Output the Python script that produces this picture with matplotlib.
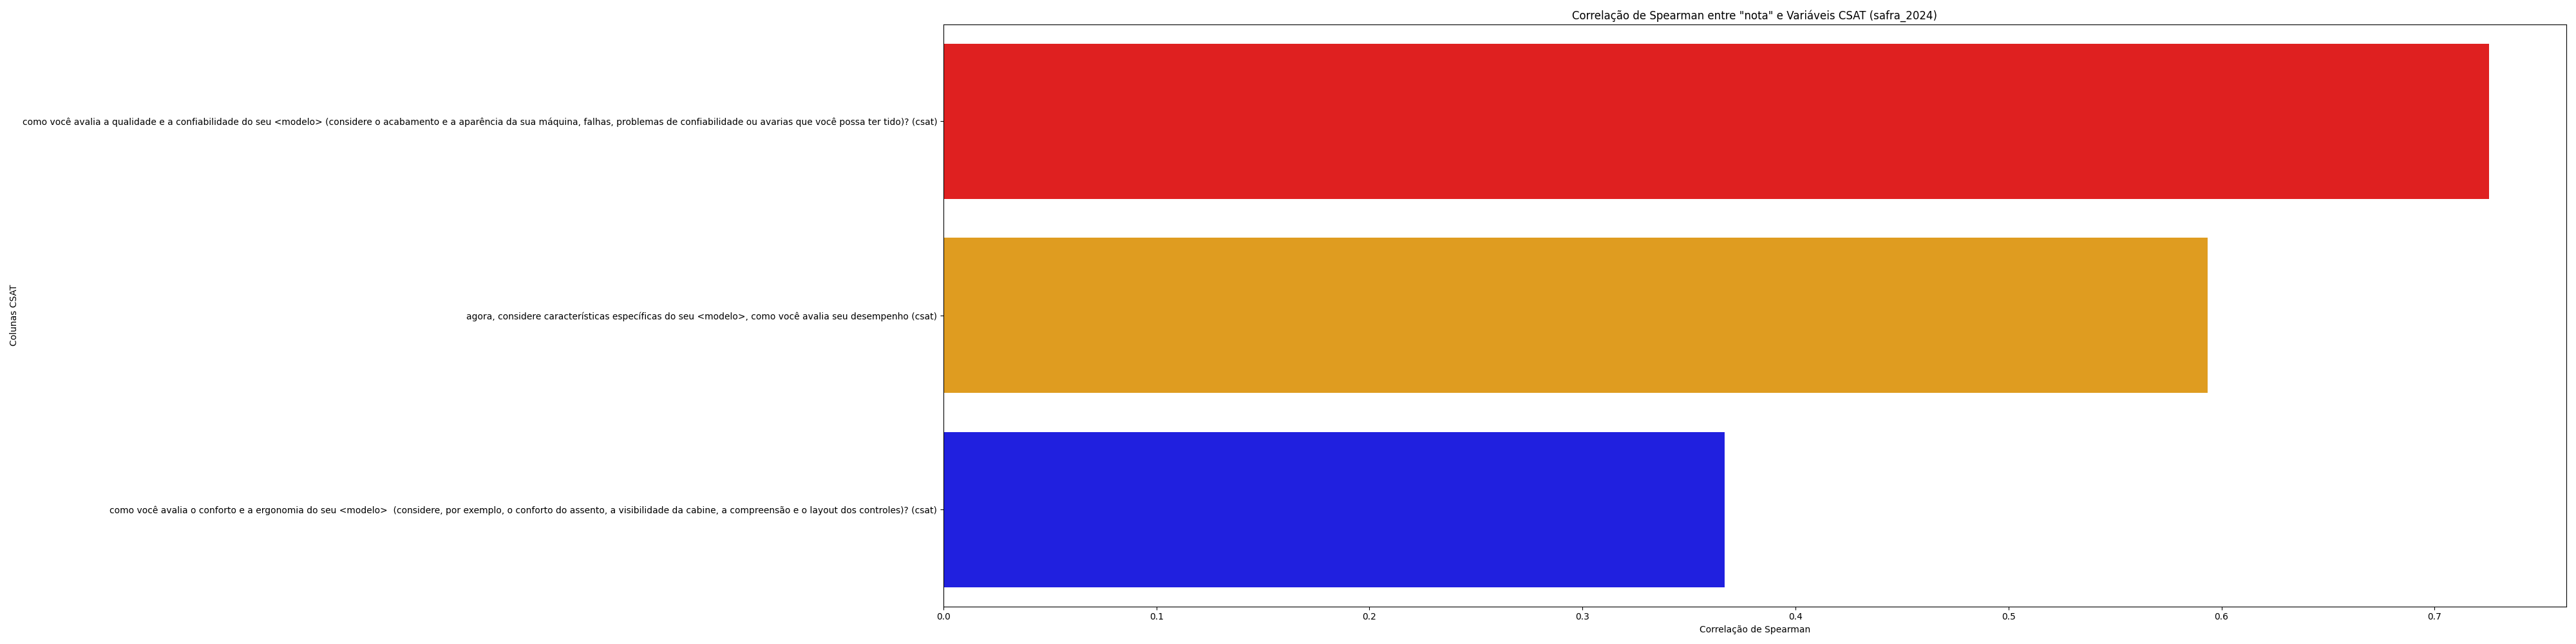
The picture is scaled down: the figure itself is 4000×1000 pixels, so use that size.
import matplotlib
matplotlib.use("Agg")
import matplotlib.pyplot as plt
import seaborn as sns
import pandas as pd

# colunas csat e correlacao com "nota"
colunas = [
    'como você avalia a qualidade e a confiabilidade do seu <modelo> (considere o acabamento e a aparência da sua máquina, falhas, problemas de confiabilidade ou avarias que você possa ter tido)? (csat)',
    'agora, considere características específicas do seu <modelo>, como você avalia seu desempenho (csat)',
    'como você avalia o conforto e a ergonomia do seu <modelo>  (considere, por exemplo, o conforto do assento, a visibilidade da cabine, a compreensão e o layout dos controles)? (csat)',
]
correlacoes = [0.7256, 0.5935, 0.3666]
cores = ['red', 'orange', 'blue']

df = pd.DataFrame({'coluna': colunas, 'corr': correlacoes})

fig, ax = plt.subplots(figsize=(40, 10))
sns.barplot(x='corr', y='coluna', data=df, hue='coluna', palette=cores, legend=False, ax=ax)
ax.set_title('Correlação de Spearman entre "nota" e Variáveis CSAT (safra_2024)')
ax.set_xlabel('Correlação de Spearman')
ax.set_ylabel('Colunas CSAT')

plt.tight_layout()
plt.savefig('out.png', dpi=100)
